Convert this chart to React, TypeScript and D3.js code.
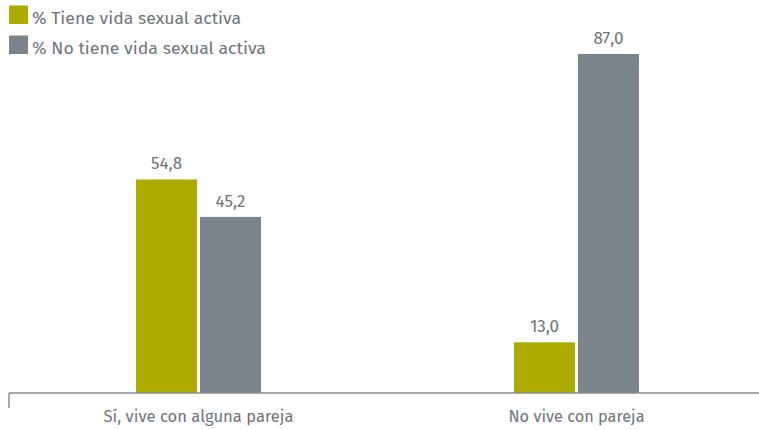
import React from "react";
import * as d3 from "d3";

const categories = ["Sí, vive con alguna pareja", "No vive con pareja"];
const seriesNames = ["% Tiene vida sexual activa", "% No tiene vida sexual activa"];
const activa = [54.8, 13.0];
const noActiva = [45.2, 87.0];
const colors = ["#aeab00", "#7c848b"];

const W = 759;
const H = 429;
const baseline = 393;
const font = "'Fira Sans', Lato, 'Open Sans', sans-serif";
const textColor = "#6f747a";

export default function App() {
  const x = d3.scaleBand<string>().domain(categories).range([9.5, 765.5]).paddingInner(0).paddingOuter(0);
  const inner = d3.scaleBand<string>().domain(["0", "1"]).range([-62.5, 62.5]).paddingInner(3 / 64);
  const y = d3.scaleLinear().domain([0, 87]).range([baseline, 54]);
  const series = [activa, noActiva];
  const fmt = (v: number) => v.toFixed(1).replace(".", ",");
  const legendWidths = [209, 234];
  const catWidths = [190, 136];

  return (
    <svg width={W} height={H} style={{ position: "absolute", left: 0, top: 0 }}>
      {seriesNames.map((name, i) => (
        <g key={name}>
          <rect x={9} y={5.5 + i * 30} width={19} height={18.5} fill={colors[i]} />
          <text
            x={32}
            y={24 + i * 29.5}
            fontFamily={font}
            fontSize={17}
            fill={textColor}
            textLength={legendWidths[i]}
            lengthAdjust="spacingAndGlyphs"
          >
            {name}
          </text>
        </g>
      ))}
      {categories.map((c, ci) => {
        const cx = (x(c) as number) + x.bandwidth() / 2;
        return (
          <g key={c}>
            {series.map((vals, si) => {
              const bx = cx + (inner(String(si)) as number);
              const bw = inner.bandwidth();
              return (
                <g key={si}>
                  <rect x={bx} y={y(vals[ci])} width={bw} height={baseline - y(vals[ci])} fill={colors[si]} />
                  <text
                    x={bx + bw / 2}
                    y={y(vals[ci]) - 10}
                    textAnchor="middle"
                    fontFamily={font}
                    fontSize={17}
                    fill={textColor}
                  >
                    {fmt(vals[ci])}
                  </text>
                </g>
              );
            })}
            <text
              x={cx}
              y={421.5}
              textAnchor="middle"
              fontFamily={font}
              fontSize={16.5}
              fill={textColor}
              textLength={catWidths[ci]}
              lengthAdjust="spacingAndGlyphs"
            >
              {c}
            </text>
          </g>
        );
      })}
      <line x1={9} x2={759} y1={baseline} y2={baseline} stroke="#8a8d90" strokeWidth={1.5} />
      <line x1={9} x2={9} y1={baseline} y2={408} stroke="#8a8d90" strokeWidth={1.5} />
    </svg>
  );
}
